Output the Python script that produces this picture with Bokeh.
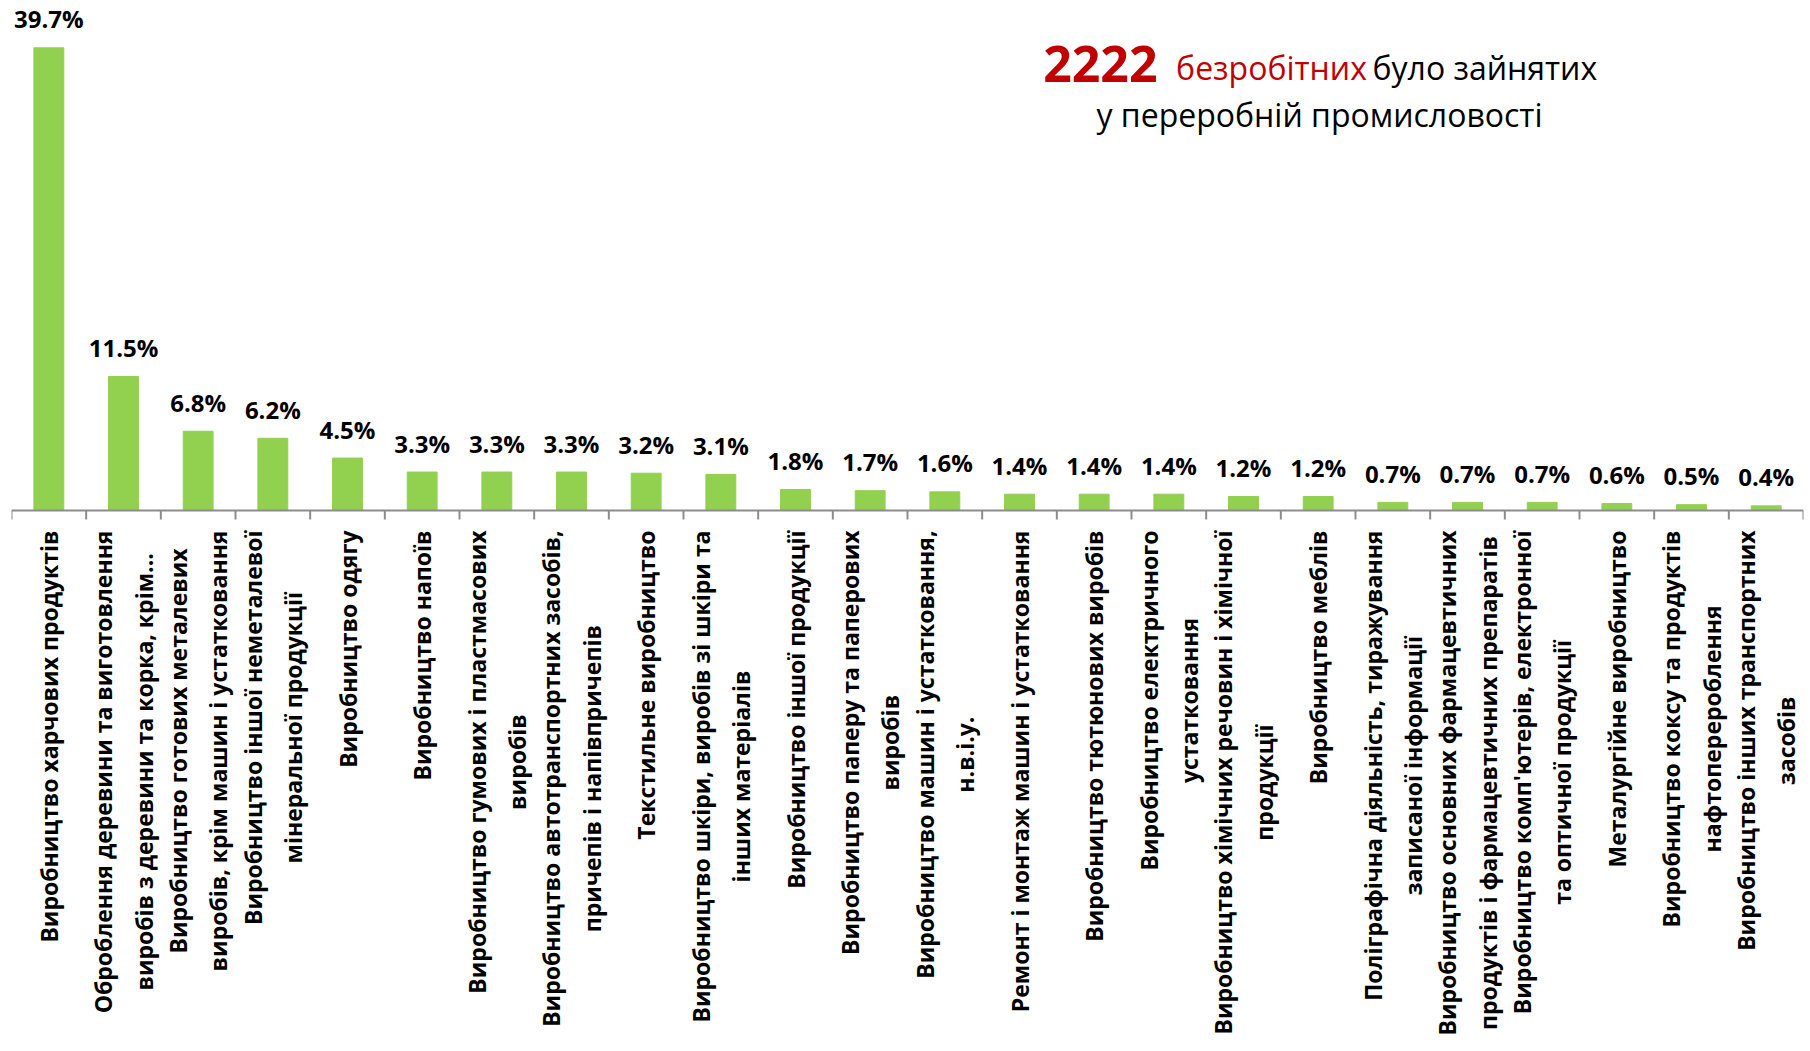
import math
from bokeh.plotting import figure
from bokeh.models import ColumnDataSource, Range1d, Label, Span
from bokeh.core.properties import value
from bokeh.embed import file_html
from bokeh.resources import INLINE

categories = [
    "Виробництво харчових продуктів",
    "Оброблення деревини та виготовлення\nвиробів з деревини та корка, крім...",
    "Виробництво готових металевих\nвиробів, крім машин і устатковання",
    "Виробництво іншої неметалевої\nмінеральної продукції",
    "Виробництво одягу",
    "Виробництво напоїв",
    "Виробництво гумових і пластмасових\nвиробів",
    "Виробництво автотранспортних засобів,\nпричепів і напівпричепів",
    "Текстильне виробництво",
    "Виробництво шкіри, виробів зі шкіри та\nінших матеріалів",
    "Виробництво іншої продукції",
    "Виробництво паперу та паперових\nвиробів",
    "Виробництво машин і устатковання,\nн.в.і.у.",
    "Ремонт і монтаж машин і устатковання",
    "Виробництво тютюнових виробів",
    "Виробництво електричного\nустатковання",
    "Виробництво хімічних речовин і хімічної\nпродукції",
    "Виробництво меблів",
    "Поліграфічна діяльність, тиражування\nзаписаної інформації",
    "Виробництво основних фармацевтичних\nпродуктів і фармацевтичних препаратів",
    "Виробництво комп'ютерів, електронної\nта оптичної продукції",
    "Металургійне виробництво",
    "Виробництво коксу та продуктів\nнафтоперероблення",
    "Виробництво інших транспортних\nзасобів",
]
values = [39.7, 11.5, 6.8, 6.2, 4.5, 3.3, 3.3, 3.3, 3.2, 3.1, 1.8, 1.7,
          1.6, 1.4, 1.4, 1.4, 1.2, 1.2, 0.7, 0.7, 0.7, 0.6, 0.5, 0.4]
value_labels = [f"{v:.1f}%" for v in values]

title_number = "2222"
title_red = "безробітних"
title_black = "було зайнятих"
title_line2 = "у переробній промисловості"

FONT = "Open Sans"
GREEN = "#92D050"
RED = "#C00000"
AXIS_GRAY = "#8C8C8C"

n = len(categories)
xs = list(range(1, n + 1))
boundaries = [i + 0.5 for i in range(n + 1)]
src = ColumnDataSource(dict(x=xs, value=values, label=value_labels,
                            cat=categories, base=[0] * n))

p = figure(width=1810, height=1051, output_backend="svg", toolbar_location=None,
           x_range=Range1d(0.5, n + 0.5), y_range=Range1d(-46.42, 43.76),
           min_border_left=11, min_border_right=7, min_border_top=0,
           min_border_bottom=0, x_axis_location=None, y_axis_location=None)
p.outline_line_color = None
p.grid.visible = False
p.background_fill_color = "white"
p.border_fill_color = "white"

p.vbar(x="x", top="value", width=0.4, source=src, fill_color=GREEN,
       line_color=GREEN)

# category axis: baseline and boundary ticks
p.add_layout(Span(location=0, dimension="width", line_color=AXIS_GRAY, line_width=2))
p.ray(x=boundaries, y=[0] * len(boundaries), length=9, length_units="screen",
      angle=-math.pi / 2, line_color=AXIS_GRAY, line_width=2)

# category labels
p.text(x="x", y="base", text="cat", source=src, angle=math.pi / 2,
       anchor=value("center_right"), text_align="center", y_offset=20,
       text_font=value(FONT), text_font_style="bold", text_font_size="23px",
       text_color="black", text_line_height=1.26)

# value labels
p.text(x="x", y="value", text="label", source=src, text_align="center",
       text_baseline="alphabetic", y_offset=-29, text_font=value(FONT),
       text_font_style="bold", text_font_size="24px", text_color="black")

p.add_layout(Label(x=1146, y=988, x_units="screen", y_units="screen", text=title_number,
                   text_align="right", text_baseline="alphabetic", text_font=FONT,
                   text_font_style="bold", text_font_size="50px", text_color=RED))
p.add_layout(Label(x=1260, y=984, x_units="screen", y_units="screen", text=title_red,
                   text_align="center", text_baseline="alphabetic", text_font=FONT,
                   text_font_size="32px", text_color=RED))
p.add_layout(Label(x=1361, y=984, x_units="screen", y_units="screen", text=title_black,
                   text_align="left", text_baseline="alphabetic", text_font=FONT,
                   text_font_size="32px", text_color="black"))
p.add_layout(Label(x=1308, y=937, x_units="screen", y_units="screen", text=title_line2,
                   text_align="center", text_baseline="alphabetic", text_font=FONT,
                   text_font_size="32px", text_color="black"))

open("out.html", "w").write(file_html(p, INLINE))
